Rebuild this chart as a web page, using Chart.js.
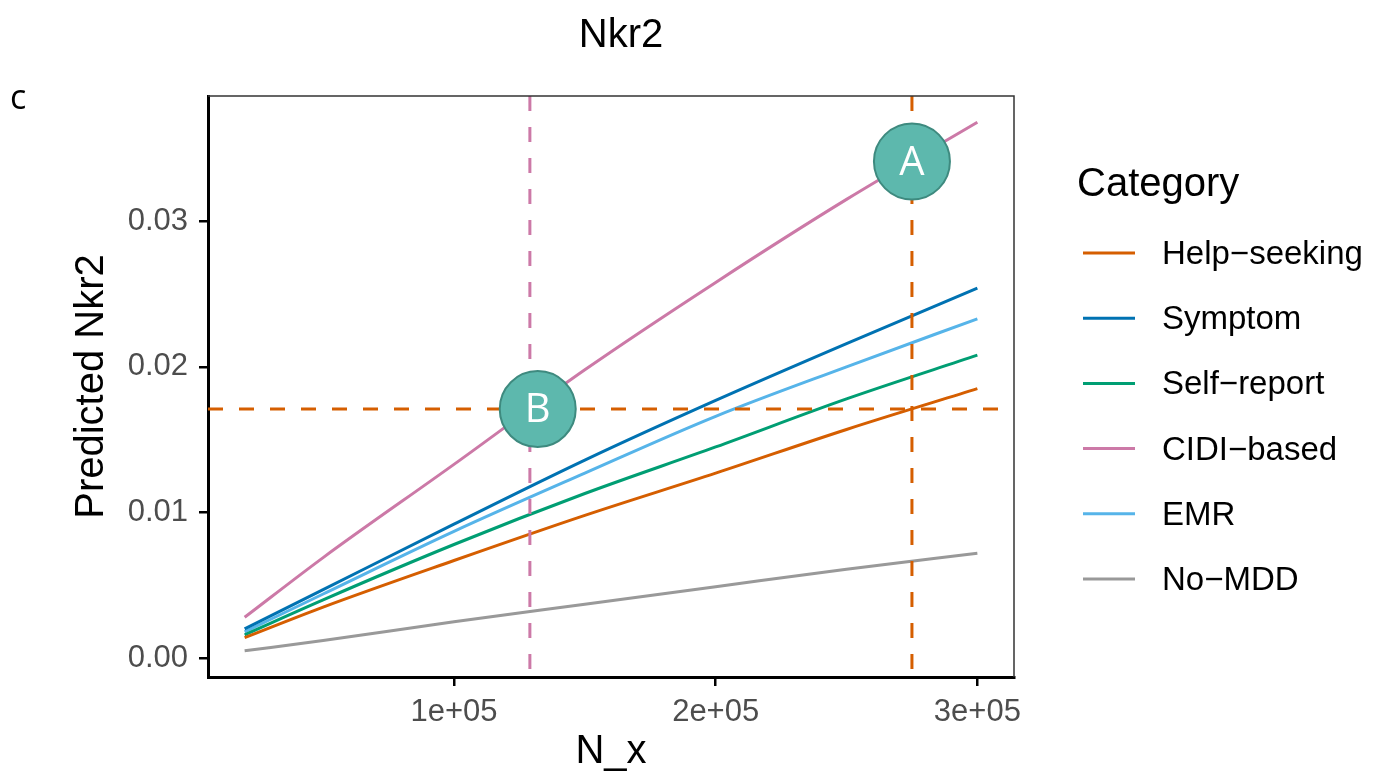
<!doctype html>
<html>
<head>
<title>Nkr2</title>
<script src="https://cdn.jsdelivr.net/npm/chart.js@4.4.1/dist/chart.umd.min.js"></script>
<style>
  html, body { margin: 0; padding: 0; background: #fff; }
  #container { width: 1373px; height: 776px; position: relative; }
</style>
</head>
<body>
<div id="container">
  <canvas id="canvas"></canvas>
</div>
<script>
// values
var xValues = [20000, 50000, 100000, 150000, 200000, 250000, 300000];
var helpSeeking = [0.0014, 0.0035, 0.0067, 0.0098, 0.0127, 0.0157, 0.0185];
var symptom     = [0.0020, 0.0047, 0.0092, 0.0136, 0.0177, 0.0216, 0.0254];
var selfReport  = [0.0016, 0.0040, 0.0078, 0.0113, 0.0145, 0.0178, 0.0208];
var cidiBased   = [0.0028, 0.0069, 0.0133, 0.0198, 0.0258, 0.0315, 0.0368];
var emr         = [0.0018, 0.0044, 0.0087, 0.0127, 0.0166, 0.0200, 0.0233];
var noMdd       = [0.0005, 0.0012, 0.0025, 0.0037, 0.0049, 0.0061, 0.0072];

var categories = ['Help\u2212seeking', 'Symptom', 'Self\u2212report', 'CIDI\u2212based', 'EMR', 'No\u2212MDD'];
var seriesValues = [helpSeeking, symptom, selfReport, cidiBased, emr, noMdd];
var colors = ['#D55E00', '#0072B2', '#009E73', '#CC79A7', '#56B4E9', '#999999'];

var xTicks = [100000, 200000, 300000];
var xTickLabels = ['1e+05', '2e+05', '3e+05'];
var yTicks = [0, 0.01, 0.02, 0.03];

// reference lines and markers
var hLineY = 0.0171;
var vLinesX = [129000, 275000];
var vLineColors = ['#CC79A7', '#D55E00'];
var markerLabels = ['A', 'B'];
var markerX = [275000, 132000];
var markerY = [0.0341, 0.0171];

var FONT = "'Liberation Sans', Arial, Helvetica, sans-serif";

var datasets = seriesValues.map(function(vals, i) {
  return {
    label: categories[i],
    data: xValues.map(function(x, j) { return {x: x, y: vals[j]}; }),
    borderColor: colors[i],
    backgroundColor: colors[i],
    borderWidth: 3,
    pointRadius: 0,
    fill: false,
    cubicInterpolationMode: 'monotone'
  };
});

var extras = {
  id: 'extras',
  afterDatasetsDraw: function(chart) {
    var ctx = chart.ctx, a = chart.chartArea;
    var xs = chart.scales.x, ys = chart.scales.y;
    ctx.save();
    ctx.beginPath();
    ctx.rect(a.left, a.top, a.right - a.left, a.bottom - a.top);
    ctx.clip();
    ctx.lineWidth = 3;
    ctx.setLineDash([15, 16]);
    // horizontal dashed line
    ctx.strokeStyle = '#D55E00';
    var hy = ys.getPixelForValue(hLineY);
    ctx.beginPath();
    ctx.moveTo(a.left, hy);
    ctx.lineTo(a.right, hy);
    ctx.stroke();
    // vertical dashed lines
    vLinesX.forEach(function(v, i) {
      var px = xs.getPixelForValue(v);
      ctx.strokeStyle = vLineColors[i];
      ctx.beginPath();
      ctx.moveTo(px, a.top);
      ctx.lineTo(px, a.bottom);
      ctx.stroke();
    });
    ctx.setLineDash([]);
    // circle markers
    markerLabels.forEach(function(t, i) {
      var px = xs.getPixelForValue(markerX[i]);
      var py = ys.getPixelForValue(markerY[i]);
      ctx.beginPath();
      ctx.arc(px, py, 38, 0, Math.PI * 2);
      ctx.fillStyle = '#5DB8AD';
      ctx.fill();
      ctx.lineWidth = 2;
      ctx.strokeStyle = '#3E8A7F';
      ctx.stroke();
      ctx.fillStyle = '#ffffff';
      ctx.font = "40px 'Open Sans', sans-serif";
      ctx.textAlign = 'center';
      ctx.textBaseline = 'middle';
      ctx.fillText(t, px, py + 2);
    });
    ctx.restore();
  },
  afterDraw: function(chart) {
    var ctx = chart.ctx, a = chart.chartArea;
    ctx.save();
    // top and right panel border
    ctx.strokeStyle = '#333333';
    ctx.lineWidth = 1.5;
    ctx.beginPath();
    ctx.moveTo(a.left, a.top);
    ctx.lineTo(a.right, a.top);
    ctx.lineTo(a.right, a.bottom);
    ctx.stroke();
    // plot title
    ctx.fillStyle = '#000';
    ctx.font = '40px ' + FONT;
    ctx.textAlign = 'center';
    ctx.textBaseline = 'middle';
    ctx.fillText('Nkr2', 621, 36);
    // panel letter
    ctx.font = "34px 'Open Sans', sans-serif";
    ctx.textAlign = 'left';
    ctx.fillText('c', 10, 99);
    // legend
    ctx.font = '40px ' + FONT;
    ctx.fillText('Category', 1077, 185);
    ctx.font = '33px ' + FONT;
    categories.forEach(function(c, i) {
      var y = 253 + i * 65.2;
      ctx.strokeStyle = colors[i];
      ctx.lineWidth = 3;
      ctx.beginPath();
      ctx.moveTo(1083, y);
      ctx.lineTo(1135, y);
      ctx.stroke();
      ctx.fillStyle = '#000';
      ctx.fillText(c, 1162, y + 2);
    });
    ctx.restore();
  }
};

var ctx = document.getElementById('canvas').getContext('2d');
window.myChart = new Chart(ctx, {
  type: 'line',
  data: { datasets: datasets },
  plugins: [extras],
  options: {
    responsive: true,
    maintainAspectRatio: false,
    animation: false,
    layout: { padding: { left: 0, right: 359, top: 96, bottom: 0 } },
    plugins: {
      legend: { display: false },
      title: { display: false },
      tooltip: { enabled: false }
    },
    scales: {
      x: {
        type: 'linear',
        min: 6000,
        max: 314000,
        afterBuildTicks: function(s) { s.ticks = xTicks.map(function(v) { return {value: v}; }); },
        afterFit: function(s) { s.height = 99; },
        ticks: {
          autoSkip: false,
          maxRotation: 0,
          padding: 8,
          color: '#4D4D4D',
          font: { family: FONT, size: 31 },
          callback: function(v) { return xTickLabels[xTicks.indexOf(v)]; }
        },
        grid: { drawOnChartArea: false, drawTicks: true, tickLength: 9, color: '#000', lineWidth: 2.5 },
        border: { color: '#000', width: 3 },
        title: {
          display: true,
          text: 'N_x',
          color: '#000',
          font: { family: FONT, size: 40 },
          padding: { top: 0, bottom: 0 }
        }
      },
      y: {
        type: 'linear',
        min: -0.0013,
        max: 0.0386,
        afterBuildTicks: function(s) { s.ticks = yTicks.map(function(v) { return {value: v}; }); },
        afterFit: function(s) { s.width = 208; },
        ticks: {
          padding: 11,
          color: '#4D4D4D',
          font: { family: FONT, size: 31 },
          callback: function(v) { return v.toFixed(2); }
        },
        grid: { drawOnChartArea: false, drawTicks: true, tickLength: 9, color: '#000', lineWidth: 2.5 },
        border: { color: '#000', width: 3 },
        title: {
          display: true,
          text: 'Predicted Nkr2',
          color: '#000',
          font: { family: FONT, size: 40 },
          padding: { top: 68, bottom: 0 }
        }
      }
    }
  }
});
</script>
</body>
</html>
